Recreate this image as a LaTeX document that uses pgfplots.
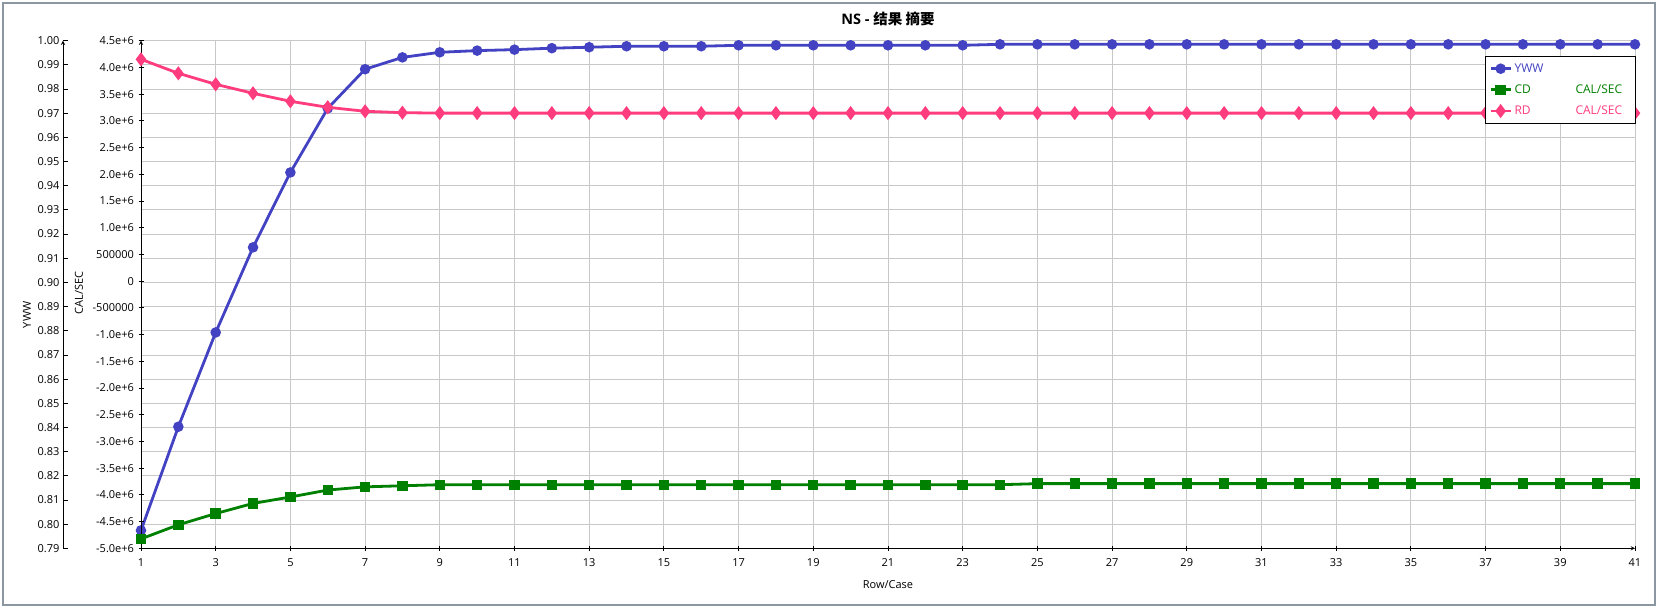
\documentclass[border=0pt]{standalone}
\usepackage{fontspec}
\setmainfont{Open Sans}
\newfontfamily\cjk{Noto Sans CJK SC}
\usepackage{pgfplots}
\pgfplotsset{compat=1.18}

\definecolor{ywwblue}{RGB}{66,66,194}
\definecolor{cdgreen}{RGB}{0,128,0}
\definecolor{rdpink}{RGB}{255,60,125}
\definecolor{gridgray}{RGB}{200,200,200}
\definecolor{framegray}{RGB}{140,150,160}

\pgfplotsset{
  plotbox/.style={
    scale only axis, width=1494pt, height=507.6pt,
    at={(141pt,59.7pt)}, anchor=south west,
    xmin=1, xmax=41,
    tick align=inside, major tick length=5pt,
    tick label style={font=\fontsize{11}{13}\selectfont},
    /pgf/number format/assume math mode=true,
    axis line style={line width=0.9pt, black},
    every tick/.style={black, line width=0.8pt},
  },
  ywwline/.style={ywwblue, line width=2.8pt, mark=*, mark size=3.8pt, mark options={solid}},
  cdline/.style={cdgreen, line width=2.8pt, mark=square*, mark size=3.8pt, mark options={solid}},
  rdline/.style={rdpink, line width=2.8pt, mark=diamond*, mark size=4.8pt, mark options={solid}},
}

\begin{document}
\begin{tikzpicture}[x=1pt,y=1pt]
\useasboundingbox (0,0) rectangle (1658,608);
\draw[framegray, line width=1.2pt] (3,3) rectangle (1655,605);

% grid, x axis and the YWW series
\begin{axis}[plotbox,
  ymin=0.79, ymax=1.00,
  axis x line=bottom, axis y line=left,
  y axis line style={draw=none}, ytick style={draw=none}, yticklabels={},
  ytick={0.79,0.80,0.81,0.82,0.83,0.84,0.85,0.86,0.87,0.88,0.89,0.90,0.91,0.92,0.93,0.94,0.95,0.96,0.97,0.98,0.99,1.00},
  xtick={1,3,...,41},
  xticklabel style={yshift=-4pt},
  grid=major, major grid style={gridgray, line width=0.8pt},
  xlabel={Row/Case},
  every axis x label/.style={at={(axis description cs:0.5,0)}, yshift=-36pt, anchor=center, font=\fontsize{11}{13}\selectfont},
  title={\textbf{NS -} {\cjk\bfseries 结果 摘要}},
  title style={at={(axis description cs:0.5,1.031)}, anchor=center, font=\bfseries\fontsize{14.5}{17}\selectfont},
]
\addplot[ywwline] coordinates {
  (1,0.7974) (2,0.8403) (3,0.8793) (4,0.9145) (5,0.9455) (6,0.9720) (7,0.9882) (8,0.9931)
  (9,0.9952) (10,0.9959) (11,0.9963) (12,0.9969) (13,0.9973) (14,0.9977) (15,0.9977) (16,0.9977)
  (17,0.9981) (18,0.9981) (19,0.9981) (20,0.9981) (21,0.9981) (22,0.9981) (23,0.9981)
  (24,0.9985) (25,0.9985) (26,0.9985) (27,0.9985) (28,0.9985) (29,0.9985) (30,0.9985) (31,0.9985)
  (32,0.9985) (33,0.9985) (34,0.9985) (35,0.9985) (36,0.9985) (37,0.9985) (38,0.9985) (39,0.9985)
  (40,0.9985) (41,0.9985)
};
\end{axis}

% CAL/SEC axis with CD and RD
\begin{axis}[plotbox,
  ymin=-5000000, ymax=4500000,
  axis x line=none, axis y line=left,
  scaled y ticks=false,
  ytick={-5000000,-4500000,-4000000,-3500000,-3000000,-2500000,-2000000,-1500000,-1000000,-500000,0,500000,1000000,1500000,2000000,2500000,3000000,3500000,4000000,4500000},
  yticklabels={-5.0e+6,-4.5e+6,-4.0e+6,-3.5e+6,-3.0e+6,-2.5e+6,-2.0e+6,-1.5e+6,-1.0e+6,-500000,0,500000,1.0e+6,1.5e+6,2.0e+6,2.5e+6,3.0e+6,3.5e+6,4.0e+6,4.5e+6},
  yticklabel style={xshift=-1pt},
  ylabel={CAL/SEC},
  every axis y label/.style={at={(axis description cs:-0.0415,0.503)}, rotate=90, anchor=center, font=\fontsize{11}{13}\selectfont},
  legend cell align=left,
  legend image code/.code={\draw[mark repeat=2,mark phase=2,#1] plot coordinates {(0pt,0pt) (10pt,0pt) (20pt,0pt)};},
  legend style={at={(axis description cs:1.0004,0.9705)}, anchor=north east, draw=black, line width=1pt,
    fill=white, inner xsep=4pt, inner ysep=5pt, row sep=6pt,
    font=\fontsize{12}{14}\selectfont, nodes={inner sep=2.5pt}},
]
\addlegendimage{ywwline}
\addlegendentry{\makebox[114pt][l]{\textcolor{ywwblue}{YWW}}}
\addplot[cdline] coordinates {
  (1,-4824000) (2,-4560000) (3,-4350000) (4,-4160000) (5,-4040000) (6,-3910000) (7,-3850000) (8,-3830000)
  (9,-3810000) (10,-3810000) (11,-3810000) (12,-3810000) (13,-3810000) (14,-3810000) (15,-3810000) (16,-3810000)
  (17,-3810000) (18,-3810000) (19,-3810000) (20,-3810000) (21,-3810000) (22,-3810000) (23,-3810000) (24,-3810000)
  (25,-3790000) (26,-3790000) (27,-3790000) (28,-3790000) (29,-3790000) (30,-3790000) (31,-3790000) (32,-3790000)
  (33,-3790000) (34,-3790000) (35,-3790000) (36,-3790000) (37,-3790000) (38,-3790000) (39,-3790000) (40,-3790000)
  (41,-3790000)
};
\addlegendentry{\makebox[114pt][l]{\color{cdgreen}\makebox[61pt][l]{CD}CAL/SEC}}
\addplot[rdline] coordinates {
  (1,4152000) (2,3890000) (3,3684000) (4,3516000) (5,3366000) (6,3254000) (7,3179000) (8,3153000)
  (9,3145000) (10,3145000) (11,3145000) (12,3145000) (13,3145000) (14,3145000) (15,3145000) (16,3145000)
  (17,3145000) (18,3145000) (19,3145000) (20,3145000) (21,3145000) (22,3145000) (23,3145000) (24,3145000)
  (25,3145000) (26,3145000) (27,3145000) (28,3145000) (29,3145000) (30,3145000) (31,3145000) (32,3145000)
  (33,3145000) (34,3145000) (35,3145000) (36,3145000) (37,3145000) (38,3145000) (39,3145000) (40,3145000)
  (41,3145000)
};
\addlegendentry{\makebox[114pt][l]{\color{rdpink}\makebox[61pt][l]{RD}CAL/SEC}}
\end{axis}

% outer YWW scale
\begin{axis}[
  scale only axis, width=10pt, height=507.6pt,
  at={(63pt,59.7pt)}, anchor=south west,
  xmin=0, xmax=1, ymin=0.79, ymax=1.00,
  axis x line=none, axis y line=left,
  tick align=inside, major tick length=5pt,
  axis line style={line width=0.9pt, black},
  every tick/.style={black, line width=0.8pt},
  ytick={0.79,0.80,0.81,0.82,0.83,0.84,0.85,0.86,0.87,0.88,0.89,0.90,0.91,0.92,0.93,0.94,0.95,0.96,0.97,0.98,0.99,1.00},
  yticklabel style={font=\fontsize{11}{13}\selectfont, /pgf/number format/.cd, fixed, fixed zerofill, precision=2, assume math mode=true},
  ylabel={YWW},
  every axis y label/.style={at={(axis description cs:-3.6,0.46)}, rotate=90, anchor=center, font=\fontsize{11}{13}\selectfont},
]
\end{axis}
\end{tikzpicture}
\end{document}
